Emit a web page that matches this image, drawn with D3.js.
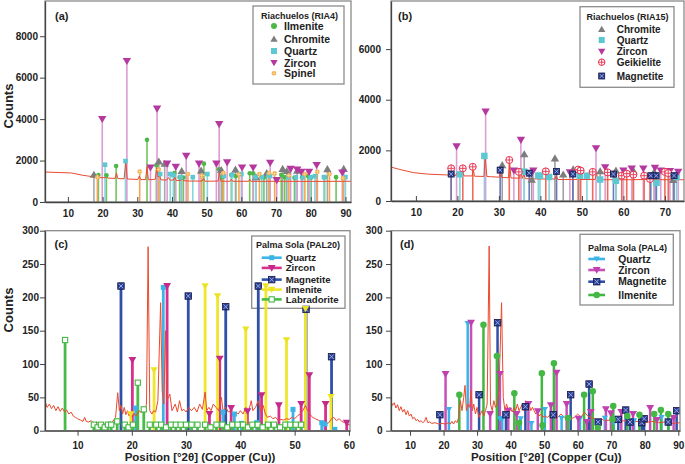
<!DOCTYPE html>
<html><head><meta charset="utf-8">
<script src="https://cdn.jsdelivr.net/npm/d3@7"></script>
<style>body{margin:0;background:#fff}svg{display:block;font-family:"Liberation Sans",Arial,sans-serif}</style>
</head><body><svg id="c" width="685" height="464"></svg>
<script>
// ---------- tick labels ----------
const aTicksX=[10,20,30,40,50,60,70,80,90];
const aTicksY=[0,2000,4000,6000,8000];
const bTicksX=[10,20,30,40,50,60,70];
const bTicksY=[0,2000,4000,6000];
const cTicksX=[10,20,30,40,50,60];
const cTicksY=[0,50,100,150,200,250,300];
const dTicksX=[10,20,30,40,50,60,70,80,90];
const dTicksY=[0,50,100,150,200,250,300];

// ---------- panel (a) Riachuelos (RIA4) ----------
const aTrace=[[3.4,1445],[8,1420],[11,1400],[14.3,1290],[17.7,1205],[19,1180],[20.8,1170],[21.2,1300],[21.5,1150],[23.6,1140],[24,1400],[24.4,1130],[26.2,1120],[26.7,1950],[27.1,1110],[30.2,1090],[30.6,1250],[31,1080],[32.4,1080],[32.8,1700],[33.2,1070],[35.2,1100],[35.6,1650],[36,1200],[36.3,1350],[36.8,1070],[38.5,1060],[39,1180],[39.5,1050],[40.4,1060],[40.8,1200],[41.2,1040],[42.5,1040],[42.9,1150],[43.3,1030],[45,1010],[48.7,1010],[49.1,1150],[49.5,1000],[53.3,1010],[53.7,1450],[54.1,1000],[56.8,1000],[57.1,1100],[57.5,1000],[62.1,1000],[62.4,1100],[62.8,995],[70,1000],[80,995],[91.6,1000]];
const aIlmenite=[[18.8,1300],[21.1,1290],[23.9,1740],[32.8,3000],[35.5,1770],[40.7,1400],[42.2,1200],[43.3,1180],[49.2,1850],[53.5,1580],[54.5,1200],[57.1,1310],[58.4,1250],[62.4,1390],[63.4,1380],[66.5,1180],[71.5,1310],[72.5,1200],[75.3,1170],[77.5,1200],[79.2,1250],[80.1,1180],[84.0,1200],[87.3,1200]];
const aChromite=[[17.5,1320],[36.2,1960],[37.9,1850],[42.8,1500],[48.4,1520],[54.2,1550],[58.3,1570],[64.2,1200],[67.3,1400],[71.9,1600],[73.1,1500],[76.1,1520],[84.8,1590],[89.5,1600]];
const aQuartz=[[20.7,1800],[26.6,1975],[36.6,1350],[39.5,1350],[40.4,1300],[42.5,1200],[46.0,1200],[50.2,1350],[54.9,1250],[57.3,1300],[60.0,1350],[64.1,1200],[65.9,1200],[67.8,1300],[68.3,1250],[73.5,1200],[75.7,1200],[77.7,1200],[79.9,1200],[81.2,1250],[83.8,1200],[90.0,1200]];
const aZircon=[[19.9,4000],[27.0,6800],[33.8,1660],[35.7,4500],[38.6,1850],[41.1,1690],[44.1,2220],[47.8,1850],[52.8,1850],[53.6,3750],[55.9,1910],[60.2,1660],[63.4,1660],[68.3,1890],[70.2,1050],[74.2,1590],[76.1,1560],[77.3,1450],[79.5,1450],[81.7,1780],[89.1,1420]];
const aSpinel=[[18.5,1200],[30.7,1470],[36.2,1570],[44.6,1350],[48.6,1280],[54.8,1400],[59.3,1330],[65.2,1350],[68.0,1400],[69.6,1380],[73.7,1280],[78.3,1350],[81.9,1460],[85.4,1350],[89.3,1150]];

// ---------- panel (b) Riachuelos (RIA15) ----------
const bTrace=[[4,1340],[6,1250],[9.4,1120],[13,1060],[17.4,1030],[19.6,1010],[19.8,1100],[20.1,1000],[21.1,1000],[21.3,1150],[21.6,990],[23.6,990],[23.8,1300],[24.1,980],[26.4,970],[26.7,1750],[27.1,970],[28,960],[30.1,940],[30.4,1200],[30.7,930],[32.3,920],[32.6,1500],[32.9,910],[35,900],[35.3,1300],[35.6,890],[36,1050],[36.4,880],[40,870],[43.5,870],[43.8,1000],[44.2,850],[48.8,850],[49.1,950],[49.5,850],[53.2,850],[53.5,1100],[53.9,840],[57.6,840],[58,950],[58.4,840],[62,840],[65,850],[70,840],[74.6,840]];
const bChromite=[[30.8,1420],[36.1,1850],[37.9,850],[43.5,1690],[45.5,1050],[47.9,1250],[54.4,1180],[58.2,1200],[62.4,1200],[67.4,1150],[72.0,840]];
const bQuartz=[[20.6,1055],[26.5,1780],[36.1,1160],[39.5,1000],[39.9,1000],[42.1,950],[49.5,1000],[51.2,1000],[54.4,850],[58.2,800],[68.0,720],[72.8,950]];
const bZircon=[[19.8,2150],[26.8,3530],[33.6,1200],[35.3,2410],[38.3,1200],[47.1,1130],[53.4,2080],[55.6,1330],[60.0,1200],[62.0,1280],[64.8,1280],[67.6,1310],[69.0,1200],[71.2,1180],[73.2,1150]];
const bGeikielite=[[18.5,1290],[21.3,1290],[23.7,1350],[32.5,1620],[34.8,1150],[41.3,1170],[49.1,1240],[49.7,1200],[52.6,1150],[56.2,1130],[59.6,1000],[60.8,1080],[62.4,1040],[65.0,1000],[66.4,870],[70.0,1150],[70.8,1100]];
const bMagnetite=[[18.5,1065],[30.3,1220],[37.3,1100],[43.9,1170],[47.8,1065],[57.6,1065],[66.6,1000],[67.9,1000],[72.2,1000]];

// ---------- panel (c) Palma Sola (PAL20) ----------
const cTrace=[[4,44],[4.4,35],[4.8,40],[5.2,33],[5.6,38],[6,30],[6.4,36],[6.8,29],[7.2,34],[7.6,28],[8,31],[8.4,25],[8.8,28],[9.2,22],[9.6,20],[10,18],[10.5,16],[11,14],[11.3,20],[11.6,14],[12,13],[12.5,15],[13,11],[13.5,13],[14,10],[14.5,12],[15,10],[15.5,12],[16,11],[16.5,14],[17,20],[17.4,57],[17.7,30],[18,38],[18.3,25],[18.6,35],[18.9,24],[19.2,30],[19.5,22],[19.8,28],[20.1,20],[20.4,26],[20.7,22],[21,25],[21.4,30],[21.7,27],[22,35],[22.4,30],[22.7,40],[23.0,276],[23.3,30],[23.7,25],[24,30],[24.4,28],[24.8,45],[25.3,192],[25.6,60],[25.9,40],[26.2,150],[26.5,45],[27,55],[27.4,30],[28,40],[28.4,28],[28.8,45],[29.2,30],[29.6,32],[30,28],[30.5,35],[31,30],[31.5,35],[32,28],[32.5,40],[33,32],[33.5,58],[33.8,30],[34.2,35],[34.6,30],[35,40],[35.5,35],[36,30],[36.5,50],[36.8,30],[37.3,35],[37.8,28],[38.2,30],[38.7,25],[39.2,28],[39.6,25],[40,30],[40.5,25],[41,35],[41.5,28],[42,45],[42.3,30],[42.8,35],[43.3,45],[43.7,30],[44.2,38],[44.6,25],[45,20],[45.5,22],[46,18],[46.5,20],[47,15],[47.5,17],[48,16],[48.5,18],[49,17],[49.5,20],[50,18],[50.5,22],[51,25],[51.5,30],[52,38],[52.4,30],[52.8,25],[53.3,20],[53.8,18],[54.3,16],[54.8,14],[55.3,12],[55.8,10],[56.3,12],[56.8,18],[57.2,20],[57.7,15],[58.2,18],[58.7,14],[59.2,12],[59.7,10],[60.3,8]];
const cQuartz=[[20.7,34],[25.8,215],[36.8,28],[38.9,25],[40.2,11],[43.0,12],[49.7,32],[55.0,12],[55.6,10],[57.4,2]];
const cZircon=[[20.1,106],[26.5,217],[34.3,25],[36.2,108],[38.3,34],[41.3,29],[43.9,53],[47.1,38],[51.2,40],[52.7,83],[55.7,40],[59.6,12]];
const cMagnetite=[[18.0,217],[30.4,202],[37.3,186],[43.3,217],[52.1,182],[56.8,111]];
const cIlmenite=[[19.8,25],[24.1,91],[33.5,217],[35.8,202],[41.0,152],[44.7,217],[48.5,136],[52.0,183],[56.7,51]];
const cLabradorite=[[7.7,136],[21.1,72],[22.2,32],[17.3,14],[13,9],[13.7,5],[14.3,9],[15,5],[15.6,9],[16.2,9],[18.7,9],[19.4,5],[20.2,9],[23.3,9],[24.5,9],[25.4,9],[26.3,5],[27.2,9],[28.1,9],[29,9],[30,9],[31,9],[32.1,9],[33.5,9],[34.5,5],[35.6,9],[36.7,9],[37.6,5],[38.5,9],[39.5,9],[40.5,9],[41.4,5],[42.2,9],[43.2,9],[44.1,5],[45.1,9],[46.2,9],[47.3,5],[48.3,9],[49.2,9],[50.2,9],[51.2,9]];

// ---------- panel (d) Palma Sola (PAL4) ----------
const dTrace=[[4.3,44],[4.8,38],[5.3,42],[5.8,34],[6.3,39],[6.8,30],[7.3,36],[7.8,28],[8.3,32],[8.8,24],[9.3,30],[9.8,22],[10.3,25],[10.8,18],[11.3,20],[11.8,15],[12.3,17],[12.8,13],[13.3,15],[13.8,12],[14.3,14],[14.8,20],[15.3,12],[15.8,13],[16.5,11],[17.5,12],[18.5,10],[19.5,11],[20.5,10],[21.5,12],[22,10],[22.5,14],[23,10],[23.5,15],[24,12],[24.5,20],[25,45],[25.5,30],[26,50],[26.4,68],[26.8,30],[27.3,40],[27.8,35],[28.2,60],[28.6,30],[29,40],[29.5,25],[30,35],[30.5,20],[31,25],[31.5,30],[32,22],[32.5,30],[33,40],[33.6,277],[34,40],[34.5,30],[35,45],[35.5,35],[36,40],[36.5,60],[37.3,192],[37.8,50],[38.3,30],[38.8,40],[39.3,30],[39.8,35],[40.5,28],[41,35],[41.5,30],[42,40],[42.5,30],[43,35],[43.5,40],[44,30],[44.5,45],[45,35],[45.5,40],[46,30],[46.5,35],[47,30],[47.5,25],[48,28],[48.5,22],[49,25],[49.5,20],[50,22],[51,20],[52,25],[53,22],[54,20],[55,25],[56,20],[57,22],[58,18],[59,20],[60,25],[61,20],[62,28],[63,22],[64,20],[65,18],[66,16],[67,18],[68,15],[70,16],[72,14],[74,15],[76,13],[78,14],[80,12],[82,14],[84,12],[86,13],[88,11],[90.5,12]];
const dQuartz=[[21.6,32],[27.2,161],[36.8,18],[37.5,18],[43.0,18],[46.2,11],[50.2,32],[55.2,19],[60.7,18],[68.1,19],[70.8,12],[76.8,15],[85.0,20]];
const dZircon=[[20.6,85],[28.2,162],[33.9,25],[36.8,85],[39.3,30],[41.8,25],[45.3,40],[48.1,29],[52.0,38],[53.7,87],[56.7,40],[60.2,18],[62.7,13],[63.9,28],[68.4,32],[69.9,26],[73.0,28],[76.5,25],[81.6,34],[83.6,16],[88.6,19]];
const dMagnetite=[[18.9,24],[30.6,54],[36.1,162],[38.6,24],[44.4,36],[52.7,24],[57.9,54],[63.4,70],[66.1,13],[72.1,17],[74.3,31],[75.6,13],[79.1,12],[79.8,18],[87.0,13],[89.5,30]];
const dIlmenite=[[24.7,54],[31.9,159],[35.9,112],[41.1,56],[42.5,12],[49.3,86],[49.5,8],[52.9,101],[57.1,19],[61.9,54],[64.5,59],[66.0,4],[70.4,17],[70.6,37],[74.8,22],[78.4,24],[82.8,25],[84.8,31],[87.0,25]];

const svg=d3.select('#c');
const FONT='"Liberation Sans",Arial,sans-serif';

function mark(sel,type,x,y,col,s){
  const h=s/2;
  if(type==='circle') sel.append('circle').attr('cx',x).attr('cy',y).attr('r',h).attr('fill',col);
  else if(type==='triUp') sel.append('path').attr('d',`M${x},${y-h}L${x+h*1.05},${y+h*0.8}L${x-h*1.05},${y+h*0.8}Z`).attr('fill',col);
  else if(type==='triDown') sel.append('path').attr('d',`M${x-h*1.05},${y-h*0.8}L${x+h*1.05},${y-h*0.8}L${x},${y+h}Z`).attr('fill',col);
  else if(type==='square') sel.append('rect').attr('x',x-h).attr('y',y-h).attr('width',s).attr('height',s).attr('fill',col);
  else if(type==='squareX'){
    sel.append('rect').attr('x',x-h).attr('y',y-h).attr('width',s).attr('height',s).attr('fill',col).attr('stroke','#141a48').attr('stroke-width',0.8);
    const k=h*0.7;
    sel.append('path').attr('d',`M${x-k},${y-k}L${x+k},${y+k}M${x-k},${y+k}L${x+k},${y-k}`).attr('stroke','#9fb0e6').attr('stroke-width',0.9);
  } else if(type==='spinel'){
    sel.append('circle').attr('cx',x).attr('cy',y).attr('r',h).attr('fill',col);
    sel.append('path').attr('d',`M${x-h},${y}L${x+h},${y}M${x},${y-h}L${x},${y+h}`).attr('stroke','#fde2b0').attr('stroke-width',0.7);
  } else if(type==='geik'){
    sel.append('circle').attr('cx',x).attr('cy',y).attr('r',h).attr('fill','#fff').attr('stroke',col).attr('stroke-width',1);
    sel.append('path').attr('d',`M${x-h},${y}L${x+h},${y}M${x},${y-h}L${x},${y+h}`).attr('stroke',col).attr('stroke-width',0.9);
  } else if(type==='openSquare'){
    sel.append('rect').attr('x',x-h).attr('y',y-h).attr('width',s).attr('height',s).attr('fill','#fff').attr('stroke',col).attr('stroke-width',1.1);
  }
}

let clipId=0;
function panel(cfg){
  const x=d3.scaleLinear().domain(cfg.xd).range([cfg.x0,cfg.x1]);
  const y=d3.scaleLinear().domain(cfg.yd).range([cfg.y1,cfg.y0]);
  const id='clip'+(clipId++);
  svg.append('clipPath').attr('id',id).append('rect').attr('x',cfg.x0).attr('y',cfg.y0).attr('width',cfg.x1-cfg.x0).attr('height',cfg.y1-cfg.y0);
  const L=cfg.legend;
  svg.append('rect').attr('x',L.box[0]).attr('y',L.box[1]).attr('width',L.box[2]-L.box[0]).attr('height',L.box[3]-L.box[1]).attr('fill','#fff').attr('stroke','#8c8c8c').attr('stroke-width',1.3);
  const g=svg.append('g').attr('clip-path',`url(#${id})`);
  cfg.phases.forEach(p=>{
    g.selectAll(null).data(p.data).enter().append('line')
      .attr('x1',d=>x(d[0])).attr('x2',d=>x(d[0])).attr('y1',y(0)).attr('y2',d=>y(d[1]))
      .attr('stroke',p.stick).attr('stroke-width',cfg.sw);
  });
  g.append('path').datum(cfg.trace).attr('d',d3.line().x(d=>x(d[0])).y(d=>y(d[1])))
    .attr('fill','none').attr('stroke','#ea4a2f').attr('stroke-width',1);
  cfg.phases.forEach(p=>{
    p.data.forEach(d=>mark(g,p.type,x(d[0]),y(d[1]),p.col,p.size));
  });
  svg.append('rect').attr('x',cfg.x0).attr('y',cfg.y0).attr('width',cfg.x1-cfg.x0).attr('height',cfg.y1-cfg.y0).attr('fill','none').attr('stroke','#8a8a8a').attr('stroke-width',1.3);
  const ax=svg.append('g').attr('transform',`translate(0,${cfg.y1})`);
  ax.call(d3.axisBottom(x).tickValues(cfg.minorX).tickSize(cfg.xIn?-3:3).tickFormat('').tickSizeOuter(0));
  ax.call(d3.axisBottom(x).tickValues(cfg.ticksX).tickSize(cfg.xIn?-5:5).tickPadding(cfg.xPad).tickSizeOuter(0).tickFormat(d3.format('d')));
  const ay=svg.append('g').attr('transform',`translate(${cfg.x0},0)`);
  if(cfg.minorY) ay.call(d3.axisLeft(y).tickValues(cfg.minorY).tickSize(3).tickFormat('').tickSizeOuter(0));
  ay.call(d3.axisLeft(y).tickValues(cfg.ticksY).tickSize(5).tickPadding(cfg.yPad).tickSizeOuter(0).tickFormat(d3.format('d')));
  [ax,ay].forEach(a=>{
    a.selectAll('path.domain').attr('stroke','#444').attr('stroke-width',1.3);
    a.selectAll('.tick line').attr('stroke','#444');
    a.selectAll('text').attr('font-family',FONT).attr('font-size',10).attr('font-weight','bold').attr('fill','#222');
  });
  svg.append('text').attr('x',cfg.lab[0]).attr('y',cfg.lab[1]).text(cfg.label)
    .attr('font-family',FONT).attr('font-size',11).attr('font-weight','bold').attr('fill','#222');
  svg.append('text').attr('x',L.title[0]).attr('y',L.title[1]).attr('text-anchor','middle').attr('dominant-baseline','central')
    .text(L.name).attr('font-family',FONT).attr('font-size',L.tfs).attr('font-weight','bold').attr('fill','#222');
  cfg.phases.forEach((p,i)=>{
    const yy=L.ys[i];
    if(L.line){
      svg.append('line').attr('x1',L.line[0]).attr('x2',L.line[1]).attr('y1',yy).attr('y2',yy).attr('stroke',p.stick).attr('stroke-width',2.6);
    }
    mark(svg,p.type,L.sx,yy,p.col,p.lsize||p.size);
    svg.append('text').attr('x',L.tx).attr('y',yy).attr('dominant-baseline','central').text(p.name)
      .attr('font-family',FONT).attr('font-size',L.fs).attr('font-weight','bold').attr('fill','#222');
  });
  return {x,y};
}

const minor1=(a,b)=>d3.range(a,b+0.001,1);

panel({x0:45,x1:351,y0:1,y1:202,xd:[3.4,91.6],yd:[0,9700],ticksX:aTicksX,ticksY:aTicksY,
  minorX:minor1(4,91),xIn:true,xPad:8,yPad:2,sw:1.6,trace:aTrace,label:'(a)',lab:[55,20],
  phases:[
    {name:'Ilmenite',data:aIlmenite,col:'#4cb848',stick:'#72c65c',type:'circle',size:4.6,lsize:6},
    {name:'Chromite',data:aChromite,col:'#7d7d7d',stick:'#a8a8a8',type:'triUp',size:8,lsize:7},
    {name:'Quartz',data:aQuartz,col:'#5cc8d2',stick:'#86d6de',type:'square',size:4.6,lsize:6},
    {name:'Zircon',data:aZircon,col:'#b5389f',stick:'#dc9cd4',type:'triDown',size:8,lsize:7},
    {name:'Spinel',data:aSpinel,col:'#f2a33a',stick:'#f4a656',type:'spinel',size:4.6,lsize:4.6}],
  legend:{box:[253,6,344,84],title:[299.5,16],name:'Riachuelos (RIA4)',tfs:9,fs:10.5,sx:274,tx:284,ys:[26,39,51,62.7,73.3]}
});

panel({x0:391,x1:684,y0:1,y1:201,xd:[4,74.6],yd:[0,7900],ticksX:bTicksX,ticksY:bTicksY,
  minorX:minor1(5,74),xIn:true,xPad:8,yPad:5,sw:1.6,trace:bTrace,label:'(b)',lab:[398,20],
  phases:[
    {name:'Chromite',data:bChromite,col:'#7d7d7d',stick:'#a0a0a0',type:'triUp',size:8,lsize:7},
    {name:'Quartz',data:bQuartz,col:'#5cc8d2',stick:'#86d6de',type:'square',size:6.5,lsize:6},
    {name:'Zircon',data:bZircon,col:'#b5389f',stick:'#dca0d8',type:'triDown',size:8,lsize:7},
    {name:'Geikielite',data:bGeikielite,col:'#e8304e',stick:'#f06a5a',type:'geik',size:7,lsize:6.5},
    {name:'Magnetite',data:bMagnetite,col:'#283a8a',stick:'#6a7ab8',type:'squareX',size:6,lsize:6}],
  legend:{box:[580,6.7,674,87.3],title:[627.5,17.3],name:'Riachuelos (RIA15)',tfs:9,fs:10,sx:601.7,tx:616.7,ys:[29.3,40,51.6,62.2,76]}
});

panel({x0:45,x1:350,y0:230.7,y1:430.7,xd:[4,60.2],yd:[0,300],ticksX:cTicksX,ticksY:cTicksY,
  minorX:d3.range(5,61,5),minorY:d3.range(0,301,25),xIn:false,xPad:6,yPad:1,sw:2.8,trace:cTrace,label:'(c)',lab:[54.5,248],
  phases:[
    {name:'Quartz',data:cQuartz,col:'#3bb4e8',stick:'#3cb4e6',type:'square',size:5},
    {name:'Zircon',data:cZircon,col:'#c42a8c',stick:'#d8308c',type:'triDown',size:7.5},
    {name:'Magnetite',data:cMagnetite,col:'#2a3f95',stick:'#3050a8',type:'squareX',size:6.5},
    {name:'Ilmenite',data:cIlmenite,col:'#ece325',stick:'#f0e62a',type:'triDown',size:7},
    {name:'Labradorite',data:cLabradorite,col:'#44b844',stick:'#48bc48',type:'openSquare',size:5.2}],
  legend:{box:[251.7,236,345,308.3],title:[298,245],name:'Palma Sola (PAL20)',tfs:9,fs:9.6,sx:271.7,tx:285.7,line:[261.7,281.7],ys:[257.7,267.9,279.6,289.6,299.4]}
});

panel({x0:391,x1:680,y0:230.7,y1:430.7,xd:[4.33,90.5],yd:[0,300],ticksX:dTicksX,ticksY:dTicksY,
  minorX:d3.range(5,91,5),minorY:d3.range(0,301,25),xIn:false,xPad:6,yPad:3.5,sw:2.5,trace:dTrace,label:'(d)',lab:[400,248],
  phases:[
    {name:'Quartz',data:dQuartz,col:'#3bb4e8',stick:'#3cb4e6',type:'triDown',size:6},
    {name:'Zircon',data:dZircon,col:'#c040b0',stick:'#c850b8',type:'triDown',size:7.5},
    {name:'Magnetite',data:dMagnetite,col:'#2a3f95',stick:'#3050a8',type:'squareX',size:6.5},
    {name:'Ilmenite',data:dIlmenite,col:'#44b844',stick:'#40b840',type:'circle',size:6.5}],
  legend:{box:[580,234.3,673.3,305],title:[627.5,248.3],name:'Palma Sola (PAL4)',tfs:9,fs:10.3,sx:596.7,tx:618.3,line:[588.3,605],ys:[259,270,281.7,295]}
});

function ylab(x,y){svg.append('text').attr('transform',`translate(${x},${y}) rotate(-90)`).attr('text-anchor','middle')
  .text('Counts').attr('font-family',FONT).attr('font-size',13).attr('font-weight','bold').attr('fill','#222');}
ylab(12.5,106); ylab(12.5,310);
function xlab(x){svg.append('text').attr('x',x).attr('y',461).attr('text-anchor','middle')
  .text('Position [°2θ] (Copper (Cu))').attr('font-family',FONT).attr('font-size',11.5).attr('font-weight','bold').attr('fill','#222');}
xlab(200); xlab(546.3);
</script></body></html>
